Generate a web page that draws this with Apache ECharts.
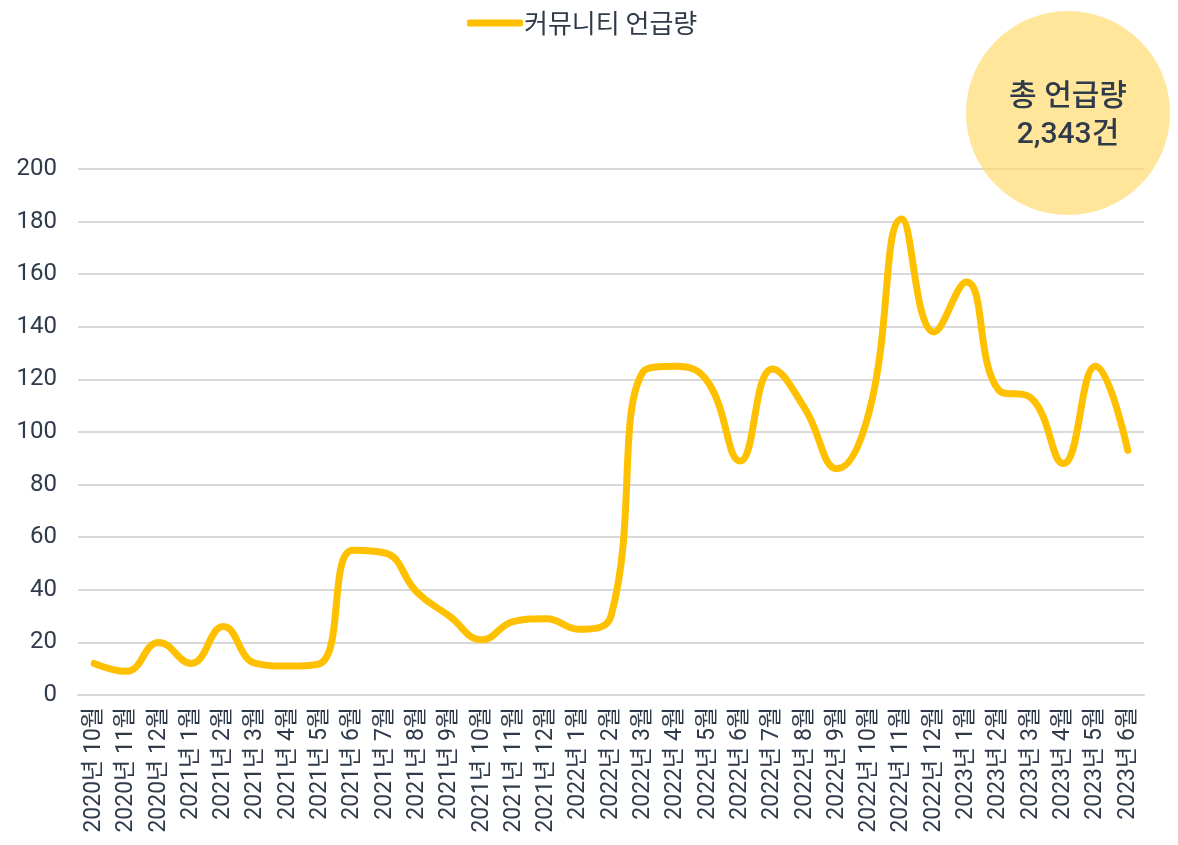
<!DOCTYPE html>
<html>
<head>
    <meta charset="UTF-8">
    <title>커뮤니티 언급량</title>
    <style>
        html, body { margin: 0; padding: 0; background: #fff; }
        #chart { width: 1178px; height: 845px; }
    </style>
    <script src="https://cdn.jsdelivr.net/npm/echarts@6/dist/echarts.min.js"></script>
</head>
<body>
<div id="chart"></div>
<script>
    var months = [
        '2020년 10월', '2020년 11월', '2020년 12월',
        '2021년 1월', '2021년 2월', '2021년 3월', '2021년 4월', '2021년 5월', '2021년 6월',
        '2021년 7월', '2021년 8월', '2021년 9월', '2021년 10월', '2021년 11월', '2021년 12월',
        '2022년 1월', '2022년 2월', '2022년 3월', '2022년 4월', '2022년 5월', '2022년 6월',
        '2022년 7월', '2022년 8월', '2022년 9월', '2022년 10월', '2022년 11월', '2022년 12월',
        '2023년 1월', '2023년 2월', '2023년 3월', '2023년 4월', '2023년 5월', '2023년 6월'
    ];
    var mentions = [
        12, 9, 20,
        12, 26, 12, 11, 12, 55,
        54, 39, 30, 21, 28, 29,
        25, 30, 123, 125, 119, 89,
        124, 109, 86, 108, 181, 138,
        157, 116, 113, 88, 125, 93
    ];
    var seriesName = '커뮤니티 언급량';
    var totalText = ['총 언급량', '2,343건'];

    var textColor = '#2f3a4a';
    var chart = echarts.init(document.getElementById('chart'));
    var option = {
        backgroundColor: '#fff',
        animation: false,
        legend: {
            top: 5,
            left: 462,
            icon: 'roundRect',
            itemWidth: 56,
            itemHeight: 7,
            itemGap: 2,
            textStyle: {
                fontFamily: "'Noto Sans CJK KR'",
                fontSize: 26,
                color: textColor,
                padding: [0, 0, 0, -4]
            },
            data: [seriesName]
        },
        grid: {
            left: 78,
            right: 34,
            top: 169,
            bottom: 150
        },
        xAxis: {
            type: 'category',
            data: months,
            boundaryGap: true,
            axisLine: { show: true, lineStyle: { color: '#d9d9d9', width: 2 } },
            axisTick: { show: false },
            axisLabel: {
                interval: 0,
                rotate: 90,
                margin: 12,
                fontFamily: "Roboto, 'Noto Sans CJK KR'",
                fontSize: 23,
                color: textColor
            }
        },
        yAxis: {
            type: 'value',
            min: 0,
            max: 200,
            interval: 20,
            axisLine: { show: false },
            axisTick: { show: false },
            splitLine: { lineStyle: { color: '#d9d9d9', width: 2 } },
            axisLabel: {
                margin: 21,
                fontFamily: "Roboto",
                fontSize: 24,
                color: textColor
            }
        },
        series: [{
            name: seriesName,
            type: 'line',
            data: mentions,
            smooth: 0.45,
            showSymbol: false,
            symbol: 'none',
            itemStyle: { color: '#FFC000' },
            lineStyle: { color: '#FFC000', width: 7, cap: 'round', join: 'round' }
        }],
        graphic: [{
            type: 'circle',
            shape: { cx: 1068, cy: 113, r: 102 },
            style: { fill: '#FFD966', opacity: 0.65 },
            z: 100
        }, {
            type: 'text',
            x: 1068,
            y: 116,
            style: {
                text: totalText.join('\n'),
                align: 'center',
                verticalAlign: 'middle',
                lineHeight: 38,
                fontFamily: "Roboto, 'Noto Sans CJK KR'",
                fontSize: 30,
                fontWeight: 500,
                fill: textColor
            },
            z: 101
        }]
    };
    chart.setOption(option);
</script>
</body>
</html>
